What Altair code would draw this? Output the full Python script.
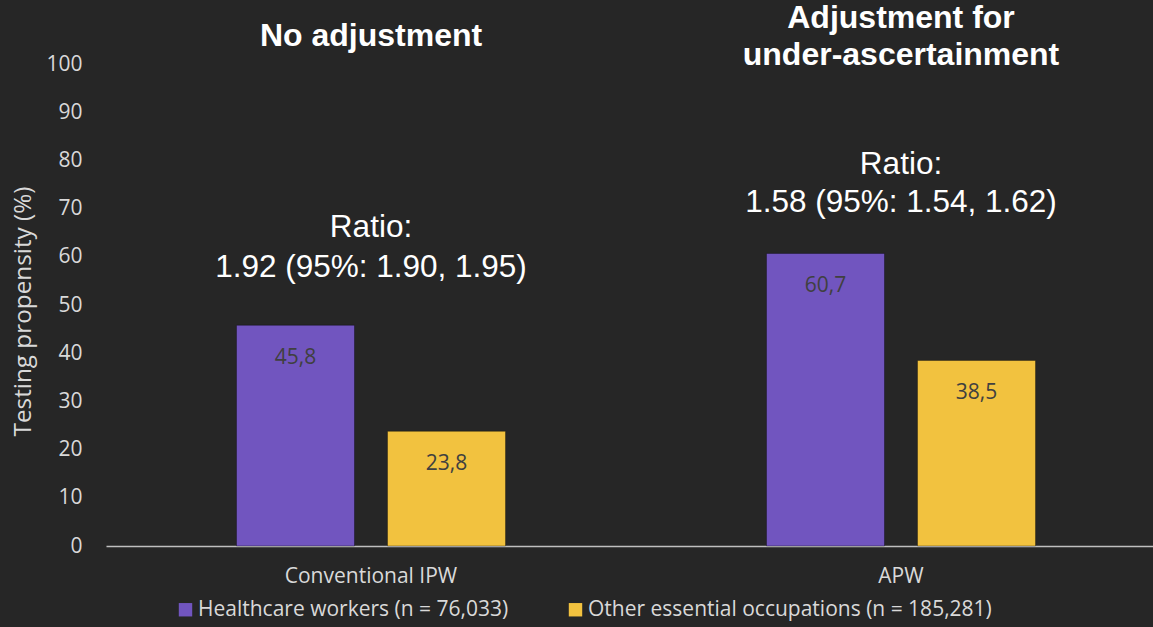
import altair as alt
import pandas as pd

# ---- data ----
methods = ["Conventional IPW", "APW"]
groups = ["Healthcare workers (n = 76,033)", "Other essential occupations (n = 185,281)"]
hcw_values = [45.8, 60.7]
other_values = [23.8, 38.5]
hcw_labels = ["45,8", "60,7"]
other_labels = ["23,8", "38,5"]

panel_titles = ["No adjustment", "Adjustment for", "under-ascertainment"]
panel_title_method = ["Conventional IPW", "APW", "APW"]
panel_title_y = [105.8, 109.6, 101.8]

ratio_text = ["Ratio:", "1.92 (95%: 1.90, 1.95)", "Ratio:", "1.58 (95%: 1.54, 1.62)"]
ratio_method = ["Conventional IPW", "Conventional IPW", "APW", "APW"]
ratio_y = [66.0, 57.7, 79.0, 71.2]

y_ticks = list(range(0, 101, 10))

bars = pd.DataFrame({
    "method": methods + methods,
    "group": [groups[0]] * 2 + [groups[1]] * 2,
    "value": hcw_values + other_values,
    "label": hcw_labels + other_labels,
})
titles_df = pd.DataFrame({"method": panel_title_method, "text": panel_titles, "y": panel_title_y})
ratio_df = pd.DataFrame({"method": ratio_method, "text": ratio_text, "y": ratio_y})

BG = "#262626"
TXT = "#D9D9D9"
PURPLE = "#7155BF"
YELLOW = "#F2C23F"

x_enc = alt.X(
    "method:N", sort=methods,
    scale=alt.Scale(range=[-1, 1059], paddingInner=0, paddingOuter=0),
    axis=alt.Axis(title=None, labelAngle=0, ticks=False, tickSize=0, domainColor="#BFBFBF",
                  domainWidth=1.5, labelColor=TXT, labelFontSize=21, labelFont="Open Sans",
                  labelPadding=19),
)
y_scale = alt.Scale(domain=[0, 100], nice=False, zero=True)

base = alt.Chart(bars)

bar = base.mark_bar(stroke="#000000", strokeOpacity=0.35, strokeWidth=1).encode(
    x=x_enc,
    xOffset=alt.XOffset("group:N", sort=groups,
                        scale=alt.Scale(paddingInner=0.2185, paddingOuter=0.864)),
    y=alt.Y("value:Q", scale=y_scale,
            axis=alt.Axis(values=y_ticks, grid=False, domain=False, ticks=False, tickSize=0,
                          labelPadding=25, labelColor=TXT, labelFontSize=21,
                          labelFont="Open Sans", title="Testing propensity (%)",
                          titleColor=TXT, titleFont="Open Sans", titleFontSize=24.3,
                          titleFontWeight="normal", titleAngle=-90, titleX=-84, titleY=247,
                          titleAlign="center", titleBaseline="middle")),
    color=alt.Color("group:N", scale=alt.Scale(domain=groups, range=[PURPLE, YELLOW]),
                    legend=alt.Legend(orient="none", direction="horizontal", legendX=68,
                                      legendY=535, title=None, symbolType="square",
                                      symbolSize=180, symbolStrokeWidth=0, labelFontSize=21,
                                      labelColor=TXT, labelFont="Open Sans", columnPadding=56,
                                      labelOffset=2, padding=0, labelLimit=0)),
)

bar_text = base.mark_text(font="Open Sans", fontSize=21, color="#404040", baseline="middle",
                          dy=33).encode(
    x=alt.X("method:N", sort=methods),
    xOffset=alt.XOffset("group:N", sort=groups),
    y=alt.Y("value:Q", scale=y_scale),
    text="label:N",
)

title_text = alt.Chart(titles_df).mark_text(font="Liberation Sans", fontSize=32, fontWeight="bold",
                                            color="#FFFFFF", baseline="middle").encode(
    x=alt.X("method:N", sort=methods),
    y=alt.Y("y:Q", scale=y_scale),
    text="text:N",
)

ratio_marks = alt.Chart(ratio_df).mark_text(font="Liberation Sans", fontSize=31.5,
                                            color="#FFFFFF", baseline="middle").encode(
    x=alt.X("method:N", sort=methods),
    y=alt.Y("y:Q", scale=y_scale),
    text="text:N",
)

chart = alt.layer(bar, bar_text, title_text, ratio_marks).properties(
    width=1046, height=482,
    autosize=alt.AutoSizeParams(type="none"),
    padding={"left": 107, "top": 64, "right": 0, "bottom": 81},
    background=BG,
).configure_view(stroke=None)

chart.save("out.html", embed_options={"renderer": "svg", "actions": False})
